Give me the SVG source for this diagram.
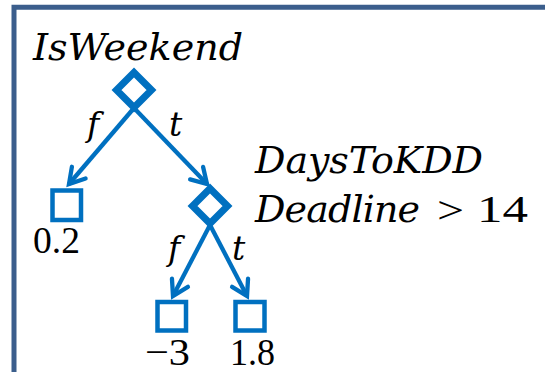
<svg xmlns="http://www.w3.org/2000/svg" width="545" height="372" viewBox="0 0 545 372">
  <style>
    .frame { fill: none; stroke: #3B5E8C; stroke-width: 5; }
    .split { fill: #fff; stroke: #0070C0; stroke-width: 7; stroke-linejoin: miter; }
    .leaf { fill: #fff; stroke: #0070C0; stroke-width: 4.5; }
    .edge { fill: none; stroke: #0070C0; stroke-width: 4.3; }
    .var { font-family: "DejaVu Serif", "Liberation Serif", serif; font-style: italic; font-size: 38px; fill: #000; }
    .num { font-family: "Liberation Serif", "DejaVu Serif", serif; font-style: normal; font-size: 38px; fill: #000; }
    .lbl { font-family: "DejaVu Serif", "Liberation Serif", serif; font-style: italic; font-size: 33px; fill: #000; }
  </style>
  <defs>
    <marker id="head" markerUnits="userSpaceOnUse" markerWidth="40" markerHeight="40" viewBox="-20 -20 40 40" refX="0" refY="0" orient="auto">
      <path d="M -15 -9 L 0 0 L -15 9" fill="none" stroke="#0070C0" stroke-width="4.3" stroke-linecap="round" stroke-linejoin="miter"/>
    </marker>
  </defs>

  <rect width="545" height="372" fill="#fff"/>

  <!-- outer frame: top and left edges -->
  <path class="frame" d="M 14 372 L 14 7.2 L 545 7.2"/>

  <!-- connectors -->
  <g id="connectors">
    <line class="edge" x1="134" y1="108" x2="69" y2="184" marker-end="url(#head)"/>
    <line class="edge" x1="134" y1="108" x2="207" y2="184" marker-end="url(#head)"/>
    <line class="edge" x1="210" y1="225" x2="173" y2="296" marker-end="url(#head)"/>
    <line class="edge" x1="210" y1="225" x2="247" y2="296" marker-end="url(#head)"/>
    <text class="lbl" x="87" y="136">f</text>
    <text class="lbl" x="169" y="136">t</text>
    <text class="lbl" x="168" y="260">f</text>
    <text class="lbl" x="232" y="260">t</text>
  </g>

  <!-- root split -->
  <g id="node-isweekend">
    <path class="split" d="M 134 72.5 L 151.5 90 L 134 107.5 L 116.5 90 Z"/>
    <text class="var" x="33" y="60" textLength="210" lengthAdjust="spacing">IsWeekend</text>
  </g>

  <!-- leaf: false branch of root -->
  <g id="node-leaf-02">
    <rect class="leaf" x="52.5" y="190.5" width="28.5" height="29.5"/>
    <text class="num" x="33" y="253" textLength="47" lengthAdjust="spacingAndGlyphs">0.2</text>
  </g>

  <!-- second split -->
  <g id="node-days">
    <path class="split" d="M 210 188.5 L 227.5 206 L 210 223.5 L 192.5 206 Z"/>
    <text class="var" x="255" y="173" textLength="228" lengthAdjust="spacing">DaysToKDD</text>
    <text class="var" x="255" y="222" textLength="165" lengthAdjust="spacing">Deadline</text>
    <text class="num" x="437" y="223" font-size="46px" textLength="27" lengthAdjust="spacingAndGlyphs">&gt;</text>
    <text class="num" x="477" y="222" font-size="40px" textLength="51" lengthAdjust="spacingAndGlyphs">14</text>
  </g>

  <!-- leaves of second split -->
  <g id="node-leaf-m3">
    <rect class="leaf" x="157.5" y="302" width="28.5" height="28.5"/>
    <text class="num" x="145" y="365" textLength="45" lengthAdjust="spacingAndGlyphs">−3</text>
  </g>
  <g id="node-leaf-18">
    <rect class="leaf" x="235.5" y="302" width="29" height="28.5"/>
    <text class="num" x="230" y="365" textLength="45" lengthAdjust="spacingAndGlyphs">1.8</text>
  </g>
</svg>
